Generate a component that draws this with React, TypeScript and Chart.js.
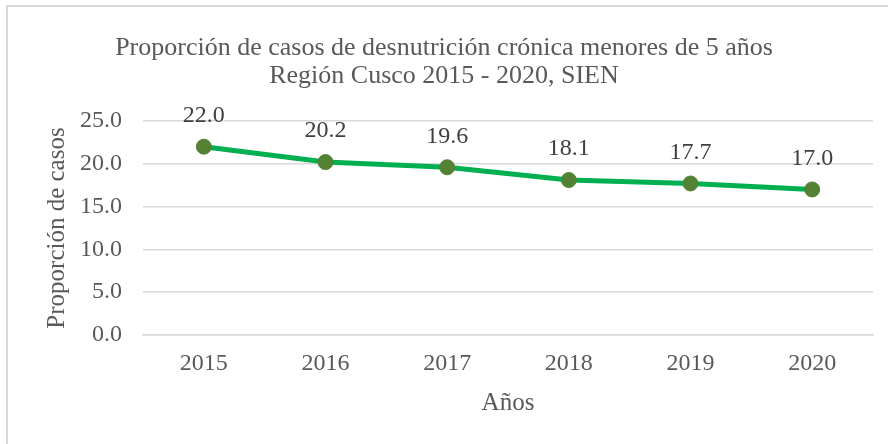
import React, { useEffect, useRef } from 'react';
import { Chart, registerables } from 'chart.js';

Chart.register(...registerables);

const years = ['2015', '2016', '2017', '2018', '2019', '2020'];
const proportions = [22.0, 20.2, 19.6, 18.1, 17.7, 17.0];
const titleLines = [
  'Proporción de casos de desnutrición crónica menores de 5 años',
  'Región Cusco 2015 - 2020, SIEN',
];
const yAxisTitle = 'Proporción de casos';
const xAxisTitle = 'Años';

const FONT = '"Liberation Serif", "Times New Roman", serif';

const framePlugin = {
  id: 'frame',
  beforeDraw(chart: any) {
    const ctx = chart.ctx;
    ctx.save();
    ctx.fillStyle = '#ffffff';
    ctx.fillRect(0, 0, chart.width, chart.height);
    ctx.strokeStyle = '#d9d9d9';
    ctx.lineWidth = 2;
    ctx.beginPath();
    ctx.moveTo(7, chart.height + 2);
    ctx.lineTo(7, 6);
    ctx.lineTo(chart.width + 2, 6);
    ctx.stroke();
    ctx.restore();
  },
};

const dataLabelPlugin = {
  id: 'dataLabels',
  afterDatasetsDraw(chart: any) {
    const ctx = chart.ctx;
    const meta = chart.getDatasetMeta(0);
    const data = chart.data.datasets[0].data as number[];
    ctx.save();
    ctx.font = `24px ${FONT}`;
    ctx.fillStyle = '#404040';
    ctx.textAlign = 'center';
    ctx.textBaseline = 'middle';
    meta.data.forEach((pt: any, i: number) => {
      ctx.fillText(data[i].toFixed(1), pt.x, pt.y - 31);
    });
    ctx.restore();
  },
};

export default function App() {
  const ref = useRef<HTMLCanvasElement | null>(null);

  useEffect(() => {
    document.body.style.margin = '0';
    if (!ref.current) return;
    const chart = new Chart(ref.current, {
      type: 'line',
      data: {
        labels: years,
        datasets: [
          {
            data: proportions,
            borderColor: '#00B050',
            borderWidth: 5,
            pointRadius: 7.5,
            pointHoverRadius: 7.5,
            pointBackgroundColor: '#548235',
            pointBorderColor: '#548235',
            pointBorderWidth: 1,
            tension: 0,
            fill: false,
          },
        ],
      },
      options: {
        responsive: false,
        animation: false,
        layout: { padding: { left: 15, right: 15, top: 0, bottom: 31 } },
        plugins: {
          legend: { display: false },
          tooltip: { enabled: false },
          title: {
            display: true,
            text: titleLines,
            color: '#595959',
            font: { family: FONT, size: 26, weight: 'normal', lineHeight: 1.1 },
            padding: { top: 33.5, bottom: 30.3 },
          },
        },
        scales: {
          x: {
            offset: true,
            grid: { display: false, drawTicks: false },
            border: { display: true, color: '#d9d9d9', width: 1.5 },
            ticks: {
              color: '#595959',
              font: { family: FONT, size: 24, lineHeight: 1 },
              padding: 17,
              maxRotation: 0,
            },
            title: {
              display: true,
              text: xAxisTitle,
              color: '#595959',
              font: { family: FONT, size: 25, lineHeight: 0.8 },
              padding: { top: 0, bottom: 0 },
            },
          },
          y: {
            min: 0,
            max: 25,
            grid: { color: '#d9d9d9', lineWidth: 1.5, drawTicks: false },
            border: { display: false },
            ticks: {
              stepSize: 5,
              color: '#595959',
              font: { family: FONT, size: 24 },
              padding: 21,
              callback: (v: any) => Number(v).toFixed(1),
            },
            title: {
              display: true,
              text: yAxisTitle,
              color: '#595959',
              font: { family: FONT, size: 25, lineHeight: 1.2 },
              padding: { top: 27, bottom: -13 },
            },
          },
        },
      },
      plugins: [framePlugin, dataLabelPlugin],
    });
    return () => chart.destroy();
  }, []);

  return (
    <div style={{ width: 888, height: 444 }}>
      <canvas ref={ref} width={888} height={444} style={{ display: 'block', width: 888, height: 444 }} />
    </div>
  );
}
